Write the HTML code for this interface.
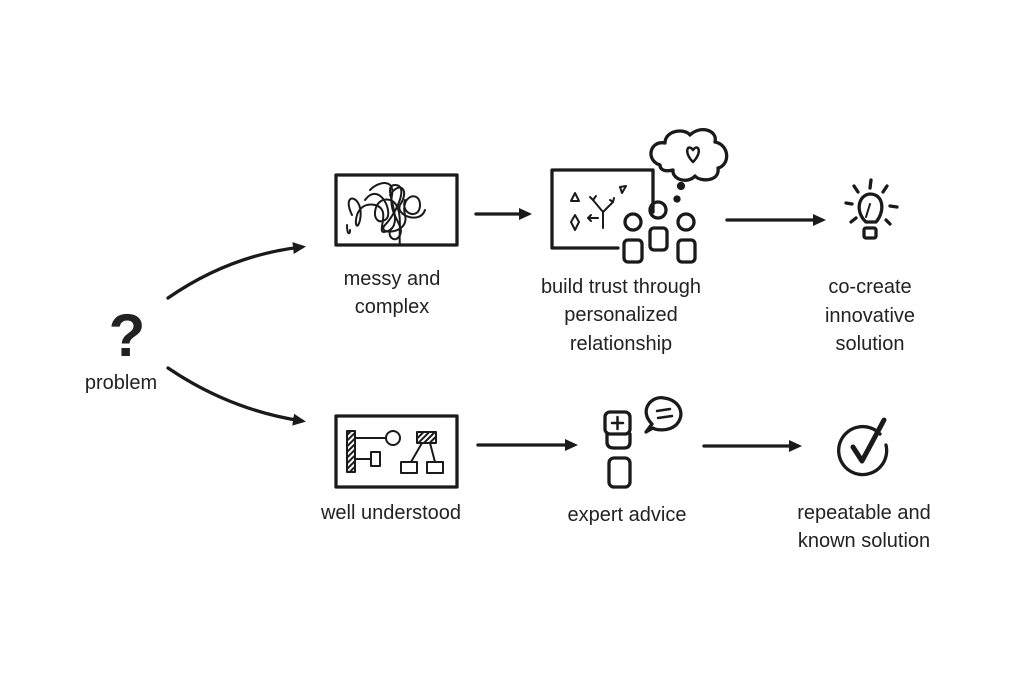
<!DOCTYPE html>
<html><head><meta charset="utf-8"><style>
html,body{margin:0;padding:0;background:#fff;}
svg{display:block;}
text{font-family:"Liberation Sans",sans-serif;font-size:20px;fill:#222;text-anchor:middle;}
</style></head><body>
<svg width="1021" height="681" viewBox="0 0 1021 681" xmlns="http://www.w3.org/2000/svg">
<defs>
<marker id="ah" markerWidth="14" markerHeight="14" refX="9" refY="7" orient="auto" markerUnits="userSpaceOnUse">
<path d="M0,1 L13,7 L0,13 Z" fill="#1a1a1a"/>
</marker>
<pattern id="hatch" width="4" height="4" patternUnits="userSpaceOnUse" patternTransform="rotate(45)">
<rect width="4" height="4" fill="#fff"/><rect width="2" height="4" fill="#1a1a1a"/>
</pattern>
</defs>
<g stroke="#1a1a1a" stroke-width="3.3" fill="none" stroke-linecap="round" stroke-linejoin="round">
<text x="127" y="356" style="font-size:60px;font-weight:bold;fill:#222;stroke:none">?</text>
<path d="M168,298 Q230,255 302,247" marker-end="url(#ah)"/>
<path d="M168,368 Q230,410 302,421" marker-end="url(#ah)"/>
<rect x="336" y="175" width="121" height="70"/>
<g stroke-width="2">
<path d="M352,215 C340,190 365,195 360,220 C355,240 350,200 375,205 C395,210 370,240 390,230 C405,220 380,185 395,185 C410,185 395,215 385,225 C375,235 410,235 405,215 C400,195 420,190 420,205 C420,220 400,215 405,200"/>
<path d="M365,200 C380,180 395,215 385,220 C370,228 372,195 390,200 C405,205 398,235 400,245"/>
<path d="M390,195 C400,180 410,190 400,205 C395,215 420,225 425,210"/>
<path d="M370,190 C380,180 395,180 392,195 C388,215 405,225 400,235 C395,245 385,235 392,228"/>
<path d="M347,225 C347,235 350,235 350,230"/>
</g>
<path d="M476,214 L528,214" marker-end="url(#ah)"/>
<path d="M653,212 L653,170 L552,170 L552,248 L618,248"/>
<g stroke-width="2">
<path d="M571,201 L575,193 L579,201 Z"/>
<path d="M620,187 L626,186 L622,193 Z"/>
<path d="M575,215 L579,222 L575,230 L571,222 Z"/>
<path d="M603,228 L603,212 L593,200 M603,212 L613,202 M598,218 L588,218"/>
<path d="M590,197 L593,200 L596,196 M610,200 L613,202 L614,198 M591,215 L588,218 L591,221"/>
</g>
<circle cx="633" cy="222" r="8"/><circle cx="658" cy="210" r="8"/><circle cx="686" cy="222" r="8"/>
<rect x="624" y="240" width="18" height="22" rx="4"/>
<rect x="650" y="228" width="17" height="22" rx="4"/>
<rect x="678" y="240" width="17" height="22" rx="4"/>
<circle cx="677" cy="199" r="2" fill="#1a1a1a"/><circle cx="681" cy="186" r="2.5" fill="#1a1a1a"/>
<path d="M660,165 C645,160 650,140 665,143 C665,130 685,128 690,135 C700,125 718,130 715,142 C730,145 730,165 718,168 C720,182 700,182 695,176 C688,184 672,180 673,170 C665,172 660,170 660,165 Z"/>
<path d="M693,162 C683,152 688,143 693,150 C698,143 703,152 693,162 Z" stroke-width="2.5"/>
<path d="M727,220 L822,220" marker-end="url(#ah)"/>
<path d="M866,222 C855,212 858,195 870,194 C884,194 885,212 876,222 Z"/>
<path d="M866,217 L870,204" stroke-width="2"/>
<rect x="864" y="228" width="12" height="10" rx="2"/>
<path d="M870,188 L871,180 M858,192 L854,186 M883,192 L887,186 M852,204 L846,203 M890,206 L897,207 M856,218 L851,222 M886,220 L890,224"/>
<rect x="336" y="416" width="121" height="71"/>
<rect x="347" y="431" width="8" height="41" fill="url(#hatch)" stroke-width="2"/>
<rect x="417" y="432" width="19" height="11" fill="url(#hatch)" stroke-width="2"/>
<g stroke-width="2">
<path d="M355,438 L386,438"/><circle cx="393" cy="438" r="7"/>
<path d="M355,459 L371,459"/><rect x="371" y="452" width="9" height="14"/>
<path d="M422,443 L411,462 M430,443 L435,462"/>
<rect x="401" y="462" width="16" height="11"/><rect x="427" y="462" width="16" height="11"/>
</g>
<path d="M478,445 L574,445" marker-end="url(#ah)"/>
<rect x="605" y="412" width="25" height="22" rx="5"/>
<path d="M612,423 L623,423 M617.5,417 L617.5,429" stroke-width="2.5"/>
<path d="M607,434 L607,442 Q607,448 614,448 L624,448 Q630,448 630,442 L630,434"/>
<rect x="609" y="458" width="21" height="29" rx="5"/>
<path d="M646,432 L652,424 C638,410 652,395 664,398 C680,400 686,415 676,425 C668,432 656,430 653,428 Z"/>
<path d="M657,411 L670,409 M658,418 L672,416" stroke-width="2.5"/>
<path d="M704,446 L798,446" marker-end="url(#ah)"/>
<path d="M880,434 A24,24 0 1 0 886,445"/>
<path d="M853,447 L862,461 L884,420" stroke-width="5"/>
</g>
<text x="121" y="389">problem</text>
<text x="392" y="285">messy and</text>
<text x="392" y="313">complex</text>
<text x="621" y="293">build trust through</text>
<text x="621" y="321">personalized</text>
<text x="621" y="350">relationship</text>
<text x="870" y="293">co-create</text>
<text x="870" y="322">innovative</text>
<text x="870" y="350">solution</text>
<text x="391" y="519">well understood</text>
<text x="627" y="521">expert advice</text>
<text x="864" y="519">repeatable and</text>
<text x="864" y="547">known solution</text>
</svg>
</body></html>
